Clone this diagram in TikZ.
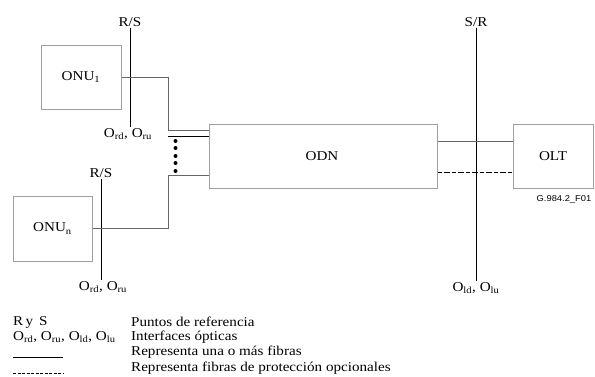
\documentclass[tikz,border=0pt]{standalone}
\usepackage{fontspec}
\setmainfont{Liberation Serif}[FakeStretch=1.12]
\newfontfamily\figsans{Liberation Sans}[FakeStretch=1.1]
\usetikzlibrary{positioning}

\begin{document}
\begin{tikzpicture}[x=1pt, y=-1pt,
  unit/.style={draw=gray!75, line width=1pt, inner sep=0pt,
               font=\fontsize{13.5}{15}\selectfont},
  refline/.style={draw=black, line width=0.8pt},
  fibre/.style={draw=gray!80!black, line width=0.9pt},
  spare/.style={draw=black, line width=0.9pt, dash pattern=on 4pt off 2pt on 6pt off 2pt},
  lbl/.style={inner sep=1pt, font=\fontsize{13.5}{15}\selectfont},
  legend/.style={inner sep=0pt, anchor=west, font=\fontsize{13.5}{15}\selectfont},
]
\useasboundingbox (0,0) rectangle (595,376);

% Network elements
\node[unit, minimum width=80pt, minimum height=64pt] (onuA) at (81,77) {ONU\textsubscript{1}};
\node[unit, minimum width=79pt, minimum height=65pt] (onuN) at (52.5,228.5) {ONU\textsubscript{n}};
\node[unit, minimum width=228pt, minimum height=64pt] (odn) at (323,156) {};
\node[lbl] (odnTxt) at (322,156) {ODN};
\node[unit, minimum width=80pt, minimum height=64pt] (olt) at (553,156) {OLT};
\node[inner sep=0pt, font=\figsans\fontsize{8.5}{10}\selectfont] (fig) at (564,199) {G.984.2\_F01};

% Reference points
\node[lbl] (rsA) at (130,22) {R/S};
\node[lbl] (oA) at (128,134) {O\textsubscript{rd}, O\textsubscript{ru}};
\node[lbl] (rsN) at (101,173) {R/S};
\node[lbl] (oN) at (103,287) {O\textsubscript{rd}, O\textsubscript{ru}};
\node[lbl] (sr) at (476,22) {S/R};
\node[lbl] (oL) at (476,288) {O\textsubscript{ld}, O\textsubscript{lu}};
\draw[refline] (rsA.south) -- (oA.north -| rsA.south);
\draw[refline] (rsN.south) -- (oN.north -| rsN.south);
\draw[refline] (sr.south) -- (oL.north -| sr.south);

% Fibres ONU -- ODN
\coordinate (kA) at (168,130);
\coordinate (kB) at (168,136);
\coordinate (kN) at (168,175);
\draw[fibre] (onuA.east) -| (kA) -- (kA -| odn.west);
\draw[refline] (kB) -- (kB -| odn.west);
\draw[fibre] (onuN.east) -| (kN) -- (kN -| odn.west);
\foreach \y in {141,148,156,163,171}
  \fill (175.5,\y) circle (2pt);

% Fibres ODN -- OLT
\draw[fibre] ([yshift=15pt]odn.east) -- ([yshift=15pt]olt.west);
\draw[spare] ([yshift=-16pt]odn.east) -- ([yshift=-16pt]olt.west);

% Legend
\node[legend] (k1) at (13,322) {R\,y\, S};
\node[legend] (k2) at (13,337) {O\textsubscript{rd}, O\textsubscript{ru}, O\textsubscript{ld}, O\textsubscript{lu}};
\coordinate (k3a) at (13,357);
\coordinate (k3b) at (63,357);
\coordinate (k4a) at (13,373);
\coordinate (k4b) at (63,373);
\draw[black, line width=0.9pt] (k3a) -- (k3b);
\draw[black, line width=0.7pt, dash pattern=on 3pt off 1.5pt] (k4a) -- (k4b);
\node[legend] (t1) at (131,322) {Puntos de referencia};
\node[legend] (t2) at (131,337) {Interfaces ópticas};
\node[legend] (t3) at (131,352) {Representa una o más fibras};
\node[legend] (t4) at (131,368) {Representa fibras de protección opcionales};
\end{tikzpicture}
\end{document}
